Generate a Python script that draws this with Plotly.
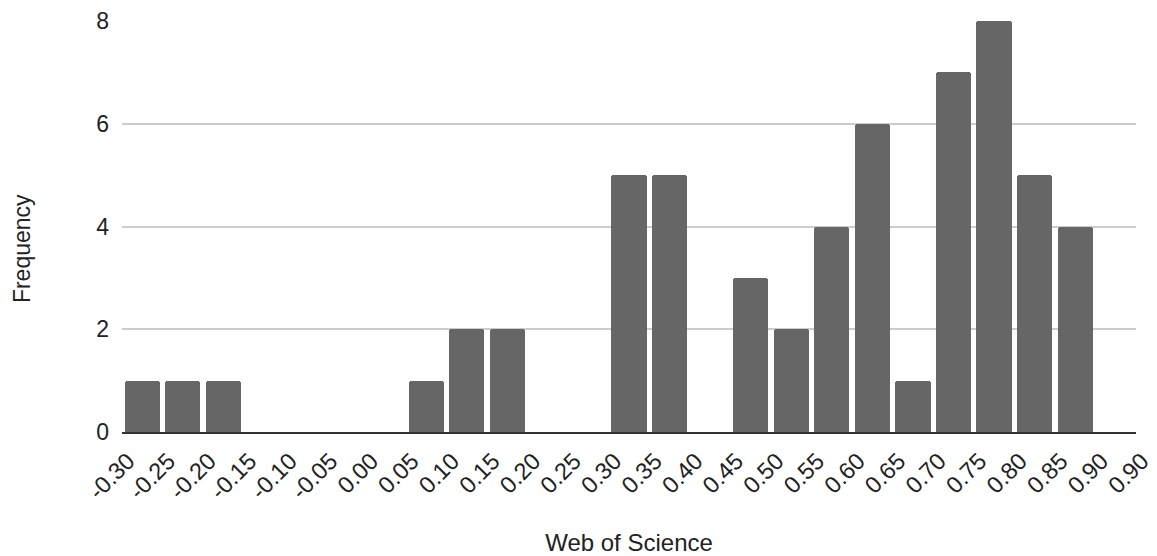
import plotly.graph_objects as go

# Histogram data: left edges of 0.05-wide bins and counts
bin_left = [-0.30, -0.25, -0.20, -0.15, -0.10, -0.05, 0.00, 0.05, 0.10, 0.15, 0.20, 0.25,
            0.30, 0.35, 0.40, 0.45, 0.50, 0.55, 0.60, 0.65, 0.70, 0.75, 0.80, 0.85]
counts = [1, 1, 1, 0, 0, 0, 0, 1, 2, 2, 0, 0,
          5, 5, 0, 3, 2, 4, 6, 1, 7, 8, 5, 4]

tick_vals = [-0.30, -0.25, -0.20, -0.15, -0.10, -0.05, 0.00, 0.05, 0.10, 0.15, 0.20, 0.25,
             0.30, 0.35, 0.40, 0.45, 0.50, 0.55, 0.60, 0.65, 0.70, 0.75, 0.80, 0.85, 0.90, 0.95]
tick_text = ["-0.30", "-0.25", "-0.20", "-0.15", "-0.10", "-0.05", "0.00", "0.05", "0.10",
             "0.15", "0.20", "0.25", "0.30", "0.35", "0.40", "0.45", "0.50", "0.55", "0.60",
             "0.65", "0.70", "0.75", "0.80", "0.85", "0.90", "0.90"]
bin_width = 0.05

centers = [b + bin_width / 2 for b in bin_left]

fig = go.Figure()
fig.add_trace(go.Bar(
    x=centers,
    y=counts,
    width=0.0435,
    marker=dict(color="#666666", line=dict(width=0), cornerradius=3),
    hoverinfo="x+y",
))

font_family = "Liberation Sans, Arial, sans-serif"

# The page body has an 8px margin; the figure is sized and offset to compensate.
fig.update_layout(
    width=1149,
    height=548,
    margin=dict(l=114, r=21, t=13, b=124),
    plot_bgcolor="white",
    paper_bgcolor="white",
    showlegend=False,
    bargap=0,
    font=dict(family=font_family, color="#222222"),
    xaxis=dict(
        range=[-0.30, 0.95],
        tickmode="array",
        tickvals=tick_vals,
        ticktext=tick_text,
        tickangle=-45,
        tickfont=dict(size=23.5, color="#222222"),
        showgrid=False,
        zeroline=False,
        showline=True,
        linecolor="#333333",
        linewidth=2,
        ticks="",
        ticklabelshift=6,
        ticklabelstandoff=4,
        title=dict(text="Web of Science", font=dict(size=24, color="#222222"), standoff=36),
        automargin=False,
    ),
    yaxis=dict(
        range=[0, 8],
        tickmode="linear",
        tick0=0,
        dtick=2,
        tickfont=dict(size=23, color="#222222"),
        showgrid=True,
        gridcolor="#cccccc",
        gridwidth=1.5,
        zeroline=False,
        showline=False,
        ticks="",
        ticklabelstandoff=12,
        automargin=False,
    ),
    annotations=[dict(
        text="Frequency",
        xref="paper", yref="paper",
        x=-0.0986, y=0.445,
        xanchor="center", yanchor="middle",
        textangle=-90,
        showarrow=False,
        font=dict(size=23, color="#222222", family=font_family),
    )],
)

fig.write_html("out.html")
